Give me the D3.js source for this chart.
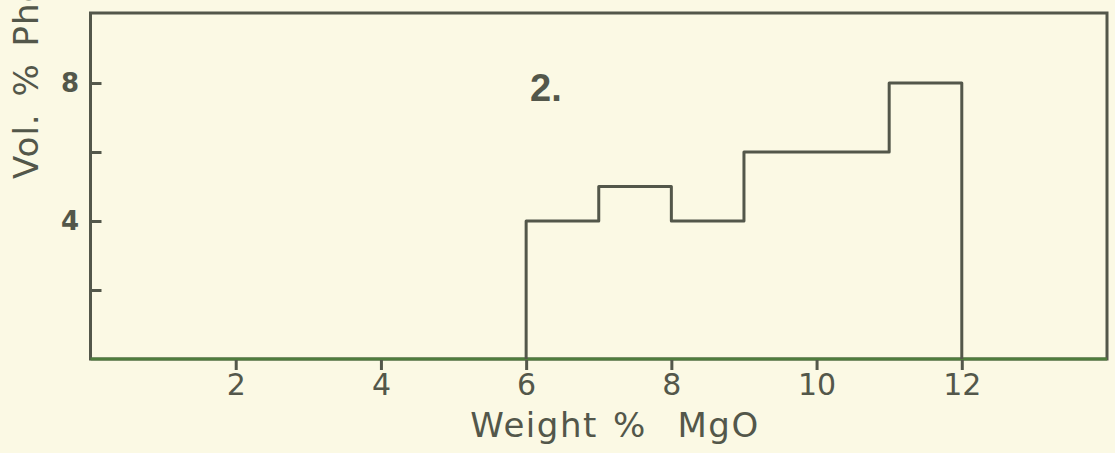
<!DOCTYPE html>
<html>
<head>
<meta charset="utf-8">
<script src="https://cdn.jsdelivr.net/npm/d3@7"></script>
<style>
  html, body { margin: 0; padding: 0; background: #fbf9e4; }
  svg { display: block; font-family: "DejaVu Sans", "Liberation Sans", Arial, sans-serif; }
</style>
</head>
<body>
<svg id="chart" width="1115" height="453"></svg>
<script>
// Histogram bins: MgO weight % (bin edges) and volume % phenocrysts
const binStarts = [6, 7, 8, 9, 11];
const binEnds   = [7, 8, 9, 11, 12];
const volPct    = [4, 5, 4, 6, 8];

const xTicks = [2, 4, 6, 8, 10, 12];
const yTicks = [2, 4, 6, 8];
const yTickLabels = ["", "4", "", "8"];

const panelLabel = "2.";
const xTitle = "Weight %  MgO";
const yTitle = "Vol. % Phenocrysts";

const xMax = 14;
const yMax = 10.03;

const ink = "#53574a";
const green = "#4f7d3c";

const svg = d3.select("#chart");

const x = d3.scaleLinear().domain([0, xMax]).range([90.5, 1107]);
const y = d3.scaleLinear().domain([0, yMax]).range([359, 13]);

// Frame
svg.append("rect")
  .attr("x", x(0)).attr("y", y(yMax))
  .attr("width", x(xMax) - x(0)).attr("height", y(0) - y(yMax))
  .attr("fill", "none").attr("stroke", ink).attr("stroke-width", 3);

// Baseline drawn slightly greener
svg.append("line")
  .attr("x1", x(0)).attr("x2", x(xMax))
  .attr("y1", y(0)).attr("y2", y(0))
  .attr("stroke", green).attr("stroke-width", 3);

// X axis: ticks below the baseline
const xAxis = d3.axisBottom(x).tickValues(xTicks).tickSize(10).tickPadding(4)
  .tickFormat(d3.format("d"));
const gx = svg.append("g").attr("transform", `translate(0,${y(0) + 1})`).call(xAxis);
gx.select(".domain").remove();
gx.selectAll(".tick line").attr("stroke", ink).attr("stroke-width", 3);
gx.selectAll(".tick text")
  .attr("fill", ink).attr("font-size", 30)
  .attr("font-family", "DejaVu Sans, Liberation Sans, Arial, sans-serif")
  .attr("dy", "0.71em");

// Y axis: ticks pointing into the plot
const yAxis = d3.axisRight(y).tickValues(yTicks).tickSize(11).tickFormat(() => "");
const gy = svg.append("g").attr("transform", `translate(${x(0)},0)`).call(yAxis);
gy.select(".domain").remove();
gy.selectAll(".tick line").attr("stroke", ink).attr("stroke-width", 3);

svg.append("g").selectAll("text")
  .data(yTicks.map((v, i) => ({ v, label: yTickLabels[i] })).filter(d => d.label))
  .join("text")
  .attr("x", 70).attr("y", d => y(d.v))
  .attr("dy", "0.36em")
  .attr("text-anchor", "middle")
  .attr("font-size", 26).attr("font-weight", "bold")
  .attr("fill", ink)
  .text(d => d.label);

// Histogram outline as a step path
const pts = [[binStarts[0], 0]];
binStarts.forEach((s, i) => {
  pts.push([s, volPct[i]]);
  pts.push([binEnds[i], volPct[i]]);
});
pts.push([binEnds[binEnds.length - 1], 0]);

svg.append("path")
  .attr("d", d3.line().x(d => x(d[0])).y(d => y(d[1]))(pts))
  .attr("fill", "none").attr("stroke", ink).attr("stroke-width", 3)
  .attr("stroke-linejoin", "round");

// Panel label
svg.append("text")
  .attr("x", 530).attr("y", 101)
  .attr("font-size", 38).attr("font-weight", "bold")
  .attr("font-family", "Liberation Sans, Arial, sans-serif")
  .attr("fill", ink)
  .text(panelLabel);

// Axis titles
svg.append("text")
  .attr("x", 615).attr("y", 437)
  .attr("text-anchor", "middle")
  .attr("font-size", 34)
  .attr("letter-spacing", 1.5)
  .attr("word-spacing", 3)
  .attr("fill", ink)
  .style("white-space", "pre")
  .text(xTitle);

svg.append("text")
  .attr("transform", "translate(38,179) rotate(-90)")
  .attr("text-anchor", "start")
  .attr("font-size", 34)
  .attr("letter-spacing", 1)
  .attr("word-spacing", 5)
  .attr("fill", ink)
  .text(yTitle);
</script>
</body>
</html>
